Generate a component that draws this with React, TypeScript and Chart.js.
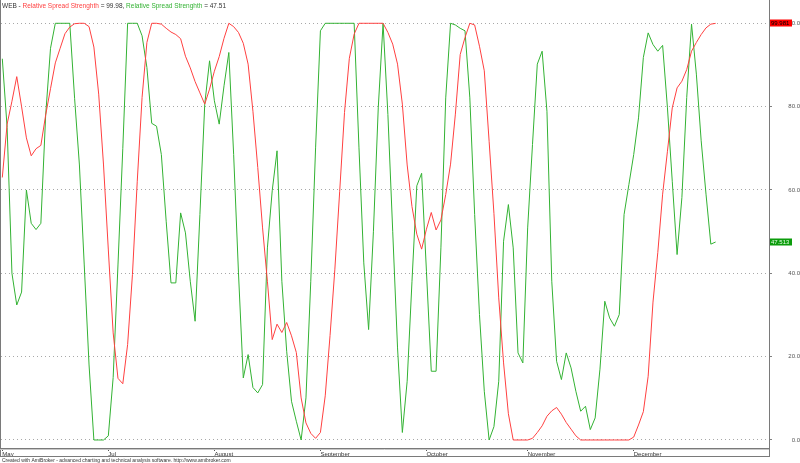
import React, { useEffect, useRef } from 'react';
import { Chart, registerables } from 'chart.js';

Chart.register(...registerables);

// Relative Spread Strenghth (red) — one value per trading bar
const redValues: number[] = [
  63, 75.8, 81.3, 87.2, 80, 72.5, 68.2, 69.9, 70.7, 78,
  84.3, 90.5, 94, 97.5, 99.1, 99.9, 100, 100, 99.2, 94.3,
  83, 66, 45.6, 25.7, 14.8, 13.5, 22.9, 39.7, 62.1, 82.2,
  95.4, 100, 100, 99.8, 98.8, 97.9, 97.3, 96.3, 92.1, 89.3,
  86, 83.3, 80.6, 84.2, 88.5, 92, 96.4, 100, 99.2, 97.8,
  95.2, 90.2, 78.9, 65.4, 50.9, 38.1, 24.1, 27.8, 25.8, 28.2,
  25, 21, 10.1, 4.1, 1.6, 0.4, 1.8, 10.6, 25.1, 41,
  59.7, 78.6, 91.6, 97.4, 100, 100, 100, 100, 100, 100,
  97.8, 95, 90.2, 80.6, 66, 56, 49.4, 45.8, 50.6, 54.6,
  50.4, 52.8, 58.9, 66.2, 78.2, 92.5, 96.6, 100, 99.6, 94.5,
  88.6, 71.7, 54.4, 34.1, 18.5, 6.3, 0, 0, 0, 0,
  0.4, 1.8, 3.4, 5.7, 7, 7.8, 6.2, 4.2, 2.6, 1,
  0, 0, 0, 0, 0, 0, 0, 0, 0, 0,
  0, 0.7, 3.6, 6.8, 15.3, 33.1, 45, 59, 69.3, 79.7,
  84.5, 86.1, 88.9, 93.3, 95.4, 97.3, 98.9, 99.8, 99.981,
];

// Relative Spread Strenghth (green)
const greenValues: number[] = [
  91.5, 75, 40, 32.4, 35.5, 60, 52, 50.5, 52, 78,
  94, 100, 100, 100, 100, 82, 66, 42, 18, 0,
  0, 0, 1, 15, 42, 70, 100, 100, 100, 97,
  89.4, 76, 75.3, 68.5, 52.5, 37.7, 37.7, 54.5, 49.7, 38.1,
  28.5, 54.1, 80.6, 91, 81.4, 75.8, 85, 93, 68.5, 40.1,
  14.9, 20.5, 12.6, 11.3, 13.3, 46.1, 59.8, 69.4, 38.1, 21.3,
  9.3, 4.5, 0, 10.1, 38.1, 70.1, 98.2, 100, 100, 100,
  100, 100, 100, 100, 70.1, 42.5, 26.5, 50.1, 79.7, 100,
  78.1, 50.1, 22.1, 1.8, 14.1, 38.1, 61, 64, 40.5, 16.5,
  16.5, 46.1, 82.1, 100, 99.6, 98.8, 98.2, 82.1, 54.1, 30.1,
  11.7, 0, 3.2, 14.1, 47.7, 56.5, 46.1, 20.9, 18.5, 50.9,
  70.9, 90.2, 93.3, 78.9, 38.1, 18.9, 14.5, 20.9, 17.3, 11.7,
  6.9, 8.1, 2.5, 5.3, 17, 33.3, 29.3, 27.3, 30.1, 54.1,
  61.3, 68.5, 77.3, 91.8, 97.7, 94.9, 93.3, 94.7, 79.7, 62.1,
  44.5, 58.2, 82.2, 99.8, 87.8, 71.8, 59, 47, 47.513,
];

const monthIndex: number[] = [0, 22, 44, 66, 88, 109, 131];
const monthLabels: string[] = ['May', 'Jul', 'August', 'September', 'October', 'November', 'December'];
const yTickValues: number[] = [0, 20, 40, 60, 80, 100];

const symbolName = 'WEB';
const seriesName = 'Relative Spread Strenghth';
const footerText =
  'Created with AmiBroker - advanced charting and technical analysis software. http://www.amibroker.com';

const RED = '#ff4040';
const GREEN = '#33b233';
const FONT = '"Liberation Sans", Arial, sans-serif';

const last = (a: number[]) => a[a.length - 1];

const framePlugin = {
  id: 'amiFrame',
  afterDraw(chart: any) {
    const ctx: CanvasRenderingContext2D = chart.ctx;
    const { right, bottom } = chart.chartArea;
    const ys = chart.scales.y;
    ctx.save();
    // frame lines
    ctx.strokeStyle = '#7a7a7a';
    ctx.lineWidth = 1;
    ctx.beginPath();
    ctx.moveTo(0.5, 0);
    ctx.lineTo(0.5, 457);
    ctx.moveTo(right + 0.5, 0);
    ctx.lineTo(right + 0.5, 457);
    ctx.moveTo(0, bottom + 0.5);
    ctx.lineTo(right + 1, bottom + 0.5);
    ctx.moveTo(0, 456.5);
    ctx.lineTo(right + 1, 456.5);
    ctx.stroke();
    ctx.strokeStyle = '#c8c8c8';
    ctx.beginPath();
    ctx.moveTo(0, bottom + 1.5);
    ctx.lineTo(right, bottom + 1.5);
    ctx.stroke();

    // title
    ctx.font = `6.5px ${FONT}`;
    ctx.textBaseline = 'alphabetic';
    ctx.textAlign = 'left';
    const parts: [string, string][] = [
      [`${symbolName} - `, '#333333'],
      [seriesName, RED],
      [` = ${last(redValues).toFixed(2)}, `, '#333333'],
      [seriesName, GREEN],
      [` = ${last(greenValues).toFixed(2)}`, '#333333'],
    ];
    let x = 2;
    for (const [t, c] of parts) {
      ctx.fillStyle = c;
      ctx.fillText(t, x, 8);
      x += ctx.measureText(t).width;
    }

    // footer
    ctx.font = `5px ${FONT}`;
    ctx.fillStyle = '#333333';
    ctx.fillText(footerText, 2, 462);

    // last-value boxes
    const boxes: [number, string, string][] = [
      [last(redValues), '#ff0000', '#000000'],
      [last(greenValues), '#0c9c0c', '#e8ffe8'],
    ];
    ctx.font = `6px ${FONT}`;
    ctx.textBaseline = 'middle';
    for (const [v, fill, txt] of boxes) {
      const py = Math.round(ys.getPixelForValue(v));
      ctx.fillStyle = fill;
      ctx.fillRect(right + 1, py - 3.5, 22, 7);
      ctx.fillStyle = txt;
      ctx.fillText(v.toFixed(3), right + 2, py + 0.5);
    }
    ctx.restore();
  },
};

export default function App() {
  const canvasRef = useRef<HTMLCanvasElement | null>(null);

  useEffect(() => {
    const canvas = canvasRef.current;
    if (!canvas) return;
    const chart = new Chart(canvas, {
      type: 'line',
      data: {
        datasets: [
          {
            label: seriesName,
            data: redValues.map((v, i) => ({ x: i, y: v })),
            borderColor: RED,
            borderWidth: 1,
            pointRadius: 0,
            tension: 0,
            fill: false,
          },
          {
            label: seriesName,
            data: greenValues.map((v, i) => ({ x: i, y: v })),
            borderColor: GREEN,
            borderWidth: 1,
            pointRadius: 0,
            tension: 0,
            fill: false,
          },
        ],
      },
      options: {
        animation: false,
        responsive: false,
        devicePixelRatio: 1,
        layout: { padding: { left: 1, top: 0, right: 0, bottom: 0 } },
        plugins: {
          legend: { display: false },
          tooltip: { enabled: false },
          title: { display: false },
        },
        scales: {
          x: {
            type: 'linear',
            min: -0.27,
            max: 159.07,
            afterBuildTicks: (axis: any) => {
              axis.ticks = monthIndex.map((v) => ({ value: v }));
            },
            afterFit: (axis: any) => {
              axis.height = 15;
              axis.paddingLeft = 0;
              axis.paddingRight = 0;
            },
            ticks: {
              autoSkip: false,
              maxRotation: 0,
              minRotation: 0,
              align: 'start',
              padding: 0,
              color: '#333333',
              font: { family: FONT, size: 6 },
              callback: (value: any) => {
                const k = monthIndex.indexOf(Number(value));
                return k >= 0 ? monthLabels[k] : '';
              },
            },
            grid: {
              drawOnChartArea: false,
              drawTicks: true,
              tickLength: 3,
              tickColor: '#555555',
            },
            border: { display: false },
          },
          y: {
            type: 'linear',
            position: 'right',
            min: -1.92,
            max: 105.59,
            afterBuildTicks: (axis: any) => {
              axis.ticks = yTickValues.map((v) => ({ value: v }));
            },
            afterFit: (axis: any) => {
              axis.width = 31;
              axis.paddingTop = 0;
              axis.paddingBottom = 0;
            },
            ticks: {
              crossAlign: 'far',
              padding: 9,
              color: '#555555',
              font: { family: FONT, size: 6 },
              callback: (value: any) => Number(value).toFixed(1),
            },
            grid: {
              color: '#a8a8a8',
              lineWidth: 1,
              drawTicks: true,
              tickLength: 3,
              tickColor: '#808080',
              tickBorderDash: [],
            },
            border: { display: false, dash: [1, 3] },
          },
        },
      },
      plugins: [framePlugin],
    } as any);
    return () => chart.destroy();
  }, []);

  return (
    <div style={{ position: 'fixed', left: 0, top: 0, width: 800, height: 463, background: '#ffffff' }}>
      <canvas ref={canvasRef} width={800} height={463} style={{ display: 'block' }} />
    </div>
  );
}
